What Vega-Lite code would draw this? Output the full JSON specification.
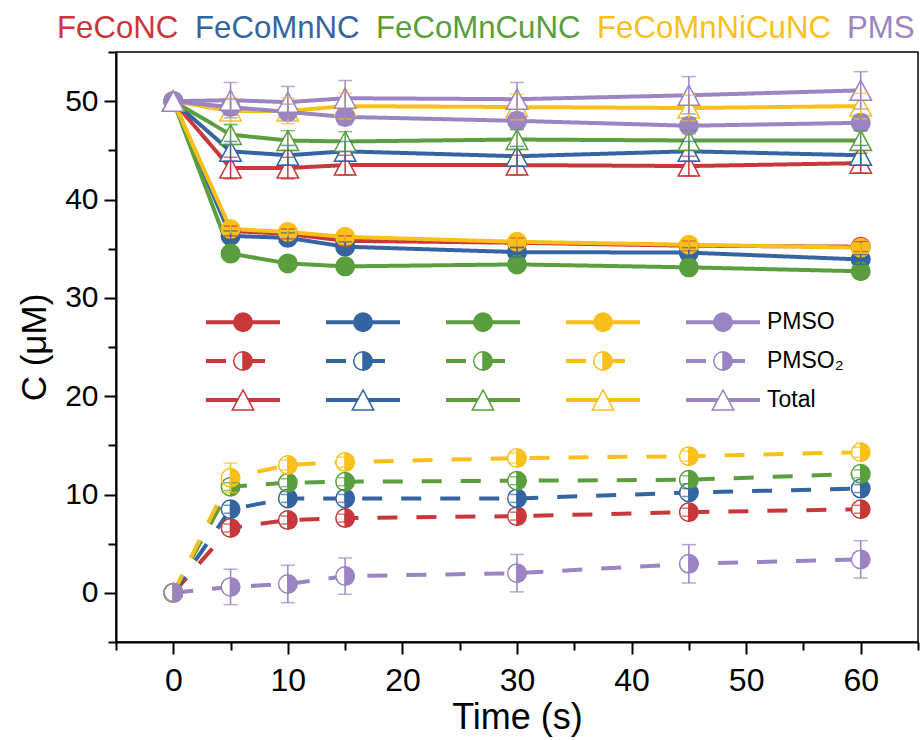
{
  "$schema": "https://vega.github.io/schema/vega-lite/v6.json",
  "width": 802,
  "height": 590,
  "autosize": {"type": "none"},
  "padding": {"left": 116, "top": 52, "right": 4, "bottom": 98},
  "background": "white",
  "config": {
    "view": {"stroke": "black", "strokeWidth": 1.5},
    "font": "Liberation Sans",
    "axis": {"grid": false, "domainColor": "black", "tickColor": "black", "labelColor": "black", "titleColor": "black", "domainWidth": 2, "tickWidth": 2}
  },
  "data": {
    "values": [
      {"s": "FeCoNC", "sp": "PMSO", "t": 0, "c": 50, "e": 0},
      {"s": "FeCoNC", "sp": "PMSO", "t": 5, "c": 36.8, "e": 0.5},
      {"s": "FeCoNC", "sp": "PMSO", "t": 10, "c": 36.5, "e": 0.5},
      {"s": "FeCoNC", "sp": "PMSO", "t": 15, "c": 35.8, "e": 0.5},
      {"s": "FeCoNC", "sp": "PMSO", "t": 30, "c": 35.6, "e": 0.5},
      {"s": "FeCoNC", "sp": "PMSO", "t": 45, "c": 35.3, "e": 0.5},
      {"s": "FeCoNC", "sp": "PMSO", "t": 60, "c": 35.2, "e": 0.5},
      {"s": "FeCoNC", "sp": "PMSO₂", "t": 0, "c": 0, "e": 0},
      {"s": "FeCoNC", "sp": "PMSO₂", "t": 5, "c": 6.6, "e": 0.4},
      {"s": "FeCoNC", "sp": "PMSO₂", "t": 10, "c": 7.4, "e": 0.4},
      {"s": "FeCoNC", "sp": "PMSO₂", "t": 15, "c": 7.6, "e": 0.4},
      {"s": "FeCoNC", "sp": "PMSO₂", "t": 30, "c": 7.8, "e": 0.4},
      {"s": "FeCoNC", "sp": "PMSO₂", "t": 45, "c": 8.2, "e": 0.4},
      {"s": "FeCoNC", "sp": "PMSO₂", "t": 60, "c": 8.5, "e": 0.4},
      {"s": "FeCoNC", "sp": "Total", "t": 0, "c": 50, "e": 0},
      {"s": "FeCoNC", "sp": "Total", "t": 5, "c": 43.2, "e": 1.1},
      {"s": "FeCoNC", "sp": "Total", "t": 10, "c": 43.2, "e": 1.1},
      {"s": "FeCoNC", "sp": "Total", "t": 15, "c": 43.5, "e": 1.0},
      {"s": "FeCoNC", "sp": "Total", "t": 30, "c": 43.5, "e": 1.0},
      {"s": "FeCoNC", "sp": "Total", "t": 45, "c": 43.4, "e": 1.0},
      {"s": "FeCoNC", "sp": "Total", "t": 60, "c": 43.7, "e": 1.0},

      {"s": "FeCoMnNC", "sp": "PMSO", "t": 0, "c": 50, "e": 0},
      {"s": "FeCoMnNC", "sp": "PMSO", "t": 5, "c": 36.3, "e": 0.5},
      {"s": "FeCoMnNC", "sp": "PMSO", "t": 10, "c": 36.1, "e": 0.5},
      {"s": "FeCoMnNC", "sp": "PMSO", "t": 15, "c": 35.2, "e": 0.5},
      {"s": "FeCoMnNC", "sp": "PMSO", "t": 30, "c": 34.65, "e": 0.5},
      {"s": "FeCoMnNC", "sp": "PMSO", "t": 45, "c": 34.6, "e": 0.5},
      {"s": "FeCoMnNC", "sp": "PMSO", "t": 60, "c": 33.9, "e": 0.5},
      {"s": "FeCoMnNC", "sp": "PMSO₂", "t": 0, "c": 0, "e": 0},
      {"s": "FeCoMnNC", "sp": "PMSO₂", "t": 5, "c": 8.5, "e": 0.4},
      {"s": "FeCoMnNC", "sp": "PMSO₂", "t": 10, "c": 9.6, "e": 0.4},
      {"s": "FeCoMnNC", "sp": "PMSO₂", "t": 15, "c": 9.6, "e": 0.4},
      {"s": "FeCoMnNC", "sp": "PMSO₂", "t": 30, "c": 9.6, "e": 0.4},
      {"s": "FeCoMnNC", "sp": "PMSO₂", "t": 45, "c": 10.2, "e": 0.4},
      {"s": "FeCoMnNC", "sp": "PMSO₂", "t": 60, "c": 10.6, "e": 0.4},
      {"s": "FeCoMnNC", "sp": "Total", "t": 0, "c": 50, "e": 0},
      {"s": "FeCoMnNC", "sp": "Total", "t": 5, "c": 44.9, "e": 1.0},
      {"s": "FeCoMnNC", "sp": "Total", "t": 10, "c": 44.5, "e": 1.0},
      {"s": "FeCoMnNC", "sp": "Total", "t": 15, "c": 44.9, "e": 1.0},
      {"s": "FeCoMnNC", "sp": "Total", "t": 30, "c": 44.4, "e": 1.0},
      {"s": "FeCoMnNC", "sp": "Total", "t": 45, "c": 44.9, "e": 1.0},
      {"s": "FeCoMnNC", "sp": "Total", "t": 60, "c": 44.5, "e": 1.0},

      {"s": "FeCoMnCuNC", "sp": "PMSO", "t": 0, "c": 50, "e": 0},
      {"s": "FeCoMnCuNC", "sp": "PMSO", "t": 5, "c": 34.5, "e": 0.5},
      {"s": "FeCoMnCuNC", "sp": "PMSO", "t": 10, "c": 33.5, "e": 0.5},
      {"s": "FeCoMnCuNC", "sp": "PMSO", "t": 15, "c": 33.2, "e": 0.5},
      {"s": "FeCoMnCuNC", "sp": "PMSO", "t": 30, "c": 33.4, "e": 0.5},
      {"s": "FeCoMnCuNC", "sp": "PMSO", "t": 45, "c": 33.1, "e": 0.5},
      {"s": "FeCoMnCuNC", "sp": "PMSO", "t": 60, "c": 32.7, "e": 0.5},
      {"s": "FeCoMnCuNC", "sp": "PMSO₂", "t": 0, "c": 0, "e": 0},
      {"s": "FeCoMnCuNC", "sp": "PMSO₂", "t": 5, "c": 10.8, "e": 0.4},
      {"s": "FeCoMnCuNC", "sp": "PMSO₂", "t": 10, "c": 11.2, "e": 0.4},
      {"s": "FeCoMnCuNC", "sp": "PMSO₂", "t": 15, "c": 11.3, "e": 0.4},
      {"s": "FeCoMnCuNC", "sp": "PMSO₂", "t": 30, "c": 11.4, "e": 0.4},
      {"s": "FeCoMnCuNC", "sp": "PMSO₂", "t": 45, "c": 11.5, "e": 0.4},
      {"s": "FeCoMnCuNC", "sp": "PMSO₂", "t": 60, "c": 12.1, "e": 0.4},
      {"s": "FeCoMnCuNC", "sp": "Total", "t": 0, "c": 50, "e": 0},
      {"s": "FeCoMnCuNC", "sp": "Total", "t": 5, "c": 46.6, "e": 1.0},
      {"s": "FeCoMnCuNC", "sp": "Total", "t": 10, "c": 46.0, "e": 1.0},
      {"s": "FeCoMnCuNC", "sp": "Total", "t": 15, "c": 45.9, "e": 1.0},
      {"s": "FeCoMnCuNC", "sp": "Total", "t": 30, "c": 46.1, "e": 1.0},
      {"s": "FeCoMnCuNC", "sp": "Total", "t": 45, "c": 46.0, "e": 1.0},
      {"s": "FeCoMnCuNC", "sp": "Total", "t": 60, "c": 46.0, "e": 1.0},

      {"s": "FeCoMnNiCuNC", "sp": "PMSO", "t": 0, "c": 50, "e": 0},
      {"s": "FeCoMnNiCuNC", "sp": "PMSO", "t": 5, "c": 37.0, "e": 0.5},
      {"s": "FeCoMnNiCuNC", "sp": "PMSO", "t": 10, "c": 36.7, "e": 0.5},
      {"s": "FeCoMnNiCuNC", "sp": "PMSO", "t": 15, "c": 36.2, "e": 0.5},
      {"s": "FeCoMnNiCuNC", "sp": "PMSO", "t": 30, "c": 35.7, "e": 0.5},
      {"s": "FeCoMnNiCuNC", "sp": "PMSO", "t": 45, "c": 35.4, "e": 0.5},
      {"s": "FeCoMnNiCuNC", "sp": "PMSO", "t": 60, "c": 35.1, "e": 0.5},
      {"s": "FeCoMnNiCuNC", "sp": "PMSO₂", "t": 0, "c": 0, "e": 0},
      {"s": "FeCoMnNiCuNC", "sp": "PMSO₂", "t": 5, "c": 11.7, "e": 1.5},
      {"s": "FeCoMnNiCuNC", "sp": "PMSO₂", "t": 10, "c": 13.0, "e": 0.5},
      {"s": "FeCoMnNiCuNC", "sp": "PMSO₂", "t": 15, "c": 13.3, "e": 0.5},
      {"s": "FeCoMnNiCuNC", "sp": "PMSO₂", "t": 30, "c": 13.7, "e": 0.5},
      {"s": "FeCoMnNiCuNC", "sp": "PMSO₂", "t": 45, "c": 13.9, "e": 0.5},
      {"s": "FeCoMnNiCuNC", "sp": "PMSO₂", "t": 60, "c": 14.3, "e": 0.5},
      {"s": "FeCoMnNiCuNC", "sp": "Total", "t": 0, "c": 50, "e": 0},
      {"s": "FeCoMnNiCuNC", "sp": "Total", "t": 5, "c": 49.0, "e": 1.3},
      {"s": "FeCoMnNiCuNC", "sp": "Total", "t": 10, "c": 49.0, "e": 1.3},
      {"s": "FeCoMnNiCuNC", "sp": "Total", "t": 15, "c": 49.5, "e": 1.3},
      {"s": "FeCoMnNiCuNC", "sp": "Total", "t": 30, "c": 49.4, "e": 1.3},
      {"s": "FeCoMnNiCuNC", "sp": "Total", "t": 45, "c": 49.3, "e": 1.3},
      {"s": "FeCoMnNiCuNC", "sp": "Total", "t": 60, "c": 49.5, "e": 1.3},

      {"s": "PMS", "sp": "PMSO", "t": 0, "c": 50, "e": 0},
      {"s": "PMS", "sp": "PMSO", "t": 5, "c": 49.4, "e": 0.8},
      {"s": "PMS", "sp": "PMSO", "t": 10, "c": 48.9, "e": 0.8},
      {"s": "PMS", "sp": "PMSO", "t": 15, "c": 48.4, "e": 0.8},
      {"s": "PMS", "sp": "PMSO", "t": 30, "c": 48.0, "e": 0.8},
      {"s": "PMS", "sp": "PMSO", "t": 45, "c": 47.5, "e": 0.8},
      {"s": "PMS", "sp": "PMSO", "t": 60, "c": 47.8, "e": 0.8},
      {"s": "PMS", "sp": "PMSO₂", "t": 0, "c": 0, "e": 0},
      {"s": "PMS", "sp": "PMSO₂", "t": 5, "c": 0.6, "e": 1.8},
      {"s": "PMS", "sp": "PMSO₂", "t": 10, "c": 0.9, "e": 1.9},
      {"s": "PMS", "sp": "PMSO₂", "t": 15, "c": 1.7, "e": 1.85},
      {"s": "PMS", "sp": "PMSO₂", "t": 30, "c": 2.0, "e": 1.9},
      {"s": "PMS", "sp": "PMSO₂", "t": 45, "c": 2.95, "e": 1.95},
      {"s": "PMS", "sp": "PMSO₂", "t": 60, "c": 3.4, "e": 1.9},
      {"s": "PMS", "sp": "Total", "t": 0, "c": 50, "e": 0},
      {"s": "PMS", "sp": "Total", "t": 5, "c": 50.1, "e": 1.8},
      {"s": "PMS", "sp": "Total", "t": 10, "c": 49.9, "e": 1.6},
      {"s": "PMS", "sp": "Total", "t": 15, "c": 50.3, "e": 1.8},
      {"s": "PMS", "sp": "Total", "t": 30, "c": 50.2, "e": 1.7},
      {"s": "PMS", "sp": "Total", "t": 45, "c": 50.6, "e": 1.9},
      {"s": "PMS", "sp": "Total", "t": 60, "c": 51.1, "e": 1.9}
    ]
  },
  "transform": [{"calculate": "datum.s + '|' + datum.sp", "as": "k"}],
  "layer": [
    {
      "mark": {"type": "line", "strokeWidth": 4},
      "encoding": {
        "x": {
          "field": "t", "type": "quantitative",
          "scale": {"domain": [-5, 65], "nice": false, "zero": false},
          "axis": {
            "values": [0, 10, 20, 30, 40, 50, 60], "title": "Time (s)",
            "tickSize": 12, "labelFontSize": 32, "labelFont": "Liberation Sans",
            "labelPadding": 11, "titleFontSize": 36, "titleFont": "Liberation Sans",
            "titleFontWeight": "normal", "titlePadding": 4, "labelFlush": false
          }
        },
        "y": {
          "field": "c", "type": "quantitative",
          "scale": {"domain": [-5, 55], "nice": false, "zero": false},
          "axis": {
            "values": [0, 10, 20, 30, 40, 50], "title": "C (μM)",
            "tickSize": 12, "labelFontSize": 30, "labelPadding": 6,
            "titleFontSize": 35, "titleFontWeight": "normal", "titlePadding": 12, "labelFlush": false
          }
        },
        "color": {
          "field": "s", "type": "nominal",
          "scale": {
            "domain": ["FeCoNC", "FeCoMnNC", "FeCoMnCuNC", "FeCoMnNiCuNC", "PMS"],
            "range": ["#c8373a", "#3465a0", "#5a9e3e", "#f9c01c", "#9b84c2"]
          },
          "legend": {
            "orient": "none", "legendX": -59, "legendY": -39, "direction": "horizontal",
            "title": null, "padding": 0, "symbolSize": 0, "symbolStrokeWidth": 0, "symbolOpacity": 0,
            "labelFontSize": 31.2, "labelFont": "Liberation Sans", "labelOffset": -31.2,
            "columnPadding": 16, "labelLimit": 0,
            "encode": {"labels": {"update": {"fill": {"scale": "color", "field": "value"}}}}
          }
        },
        "strokeDash": {
          "field": "k", "type": "nominal",
          "sort": [
            "FeCoNC|PMSO", "FeCoMnNC|PMSO", "FeCoMnCuNC|PMSO", "FeCoMnNiCuNC|PMSO", "PMS|PMSO",
            "FeCoNC|PMSO₂", "FeCoMnNC|PMSO₂", "FeCoMnCuNC|PMSO₂", "FeCoMnNiCuNC|PMSO₂", "PMS|PMSO₂",
            "FeCoNC|Total", "FeCoMnNC|Total", "FeCoMnCuNC|Total", "FeCoMnNiCuNC|Total", "PMS|Total"
          ],
          "scale": {
            "range": [
              [1, 0], [1, 0], [1, 0], [1, 0], [1, 0],
              [20, 19], [20, 19], [20, 19], [20, 19], [20, 19],
              [1, 0], [1, 0], [1, 0], [1, 0], [1, 0]
            ]
          },
          "legend": {
            "orient": "none", "legendX": 88, "legendY": 258.5, "columns": 5, "direction": "horizontal",
            "title": null, "padding": 0, "clipHeight": 23,
            "symbolType": "stroke", "symbolSize": 5476, "symbolStrokeWidth": 4,
            "labelExpr": "split(datum.value, '|')[0] == 'PMS' ? split(datum.value, '|')[1] : ''",
            "labelFontSize": 23, "labelFont": "Liberation Sans", "labelOffset": 5, "labelOpacity": 0,
            "columnPadding": 37, "rowPadding": 15, "labelLimit": 0,
            "encode": {
              "symbols": {
                "update": {
                  "stroke": {"signal": "scale('color', split(datum.value, '|')[0])"},
                  "strokeDash": {"signal": "split(datum.value, '|')[1] == 'PMSO₂' ? [20, 34] : [1, 0]"},
                  "opacity": {"value": 1}
                }
              }
            }
          }
        }
      }
    },
    {
      "transform": [{"filter": "datum.sp == 'PMSO₂'"}],
      "mark": {"type": "point", "shape": "circle", "size": 342, "filled": true, "fill": "white", "strokeWidth": 0, "opacity": 1},
      "encoding": {
        "x": {
          "field": "t", "type": "quantitative",
          "axis": {"orient": "bottom", "values": [-5, 5, 15, 25, 35, 45, 55, 65], "labels": false, "domain": false, "tickSize": 8, "title": null}
        },
        "y": {
          "field": "c", "type": "quantitative",
          "axis": {"orient": "left", "values": [-5, 5, 15, 25, 35, 45, 55], "labels": false, "domain": false, "tickSize": 8, "title": null}
        }
      }
    },
    {
      "mark": {"type": "point", "size": 5852.25, "filled": true, "opacity": 1, "strokeWidth": 1.5},
      "encoding": {
        "x": {"field": "t", "type": "quantitative", "axis": null},
        "y": {"field": "c", "type": "quantitative", "axis": null},
        "shape": {
          "field": "k", "type": "nominal",
          "scale": {
            "domain": [
              "FeCoNC|PMSO", "FeCoMnNC|PMSO", "FeCoMnCuNC|PMSO", "FeCoMnNiCuNC|PMSO", "PMS|PMSO",
              "FeCoNC|PMSO₂", "FeCoMnNC|PMSO₂", "FeCoMnCuNC|PMSO₂", "FeCoMnNiCuNC|PMSO₂", "PMS|PMSO₂",
              "FeCoNC|Total", "FeCoMnNC|Total", "FeCoMnCuNC|Total", "FeCoMnNiCuNC|Total", "PMS|Total"
            ],
            "range": [
              "M-1,0M1,0M0.242,0A0.242,0.242 0 1,1 -0.242,0A0.242,0.242 0 1,1 0.242,0Z",
              "M-1,0M1,0M0.242,0A0.242,0.242 0 1,1 -0.242,0A0.242,0.242 0 1,1 0.242,0Z",
              "M-1,0M1,0M0.242,0A0.242,0.242 0 1,1 -0.242,0A0.242,0.242 0 1,1 0.242,0Z",
              "M-1,0M1,0M0.242,0A0.242,0.242 0 1,1 -0.242,0A0.242,0.242 0 1,1 0.242,0Z",
              "M-1,0M1,0M0.242,0A0.242,0.242 0 1,1 -0.242,0A0.242,0.242 0 1,1 0.242,0Z",
              "M-1,0M1,0M0,-0.242A0.242,0.242 0 0,1 0,0.242ZM0,-0.242A0.242,0.242 0 0,0 0,0.242A0.242,0.242 0 0,1 0,-0.242",
              "M-1,0M1,0M0,-0.242A0.242,0.242 0 0,1 0,0.242ZM0,-0.242A0.242,0.242 0 0,0 0,0.242A0.242,0.242 0 0,1 0,-0.242",
              "M-1,0M1,0M0,-0.242A0.242,0.242 0 0,1 0,0.242ZM0,-0.242A0.242,0.242 0 0,0 0,0.242A0.242,0.242 0 0,1 0,-0.242",
              "M-1,0M1,0M0,-0.242A0.242,0.242 0 0,1 0,0.242ZM0,-0.242A0.242,0.242 0 0,0 0,0.242A0.242,0.242 0 0,1 0,-0.242",
              "M-1,0M1,0M0,-0.242A0.242,0.242 0 0,1 0,0.242ZM0,-0.242A0.242,0.242 0 0,0 0,0.242A0.242,0.242 0 0,1 0,-0.242",
              "M-1,0M1,0M0,-0.262L0.281,0.262L-0.281,0.262Z",
              "M-1,0M1,0M0,-0.262L0.281,0.262L-0.281,0.262Z",
              "M-1,0M1,0M0,-0.262L0.281,0.262L-0.281,0.262Z",
              "M-1,0M1,0M0,-0.262L0.281,0.262L-0.281,0.262Z",
              "M-1,0M1,0M0,-0.262L0.281,0.262L-0.281,0.262Z"
            ]
          },
          "legend": {
            "orient": "none", "legendX": 88, "legendY": 258.5, "columns": 5, "direction": "horizontal",
            "title": null, "padding": 0, "clipHeight": 23,
            "symbolSize": 5852.25, "symbolStrokeWidth": 1.5, "symbolOpacity": 1,
            "labelExpr": "split(datum.value, '|')[0] == 'PMS' ? split(datum.value, '|')[1] : ''",
            "labelFontSize": 23, "labelFont": "Liberation Sans", "labelOffset": 5, "labelColor": "black",
            "columnPadding": 37, "rowPadding": 15, "labelLimit": 0
          }
        },
        "fill": {
          "field": "k", "type": "nominal",
          "scale": {
            "domain": [
              "FeCoNC|PMSO", "FeCoMnNC|PMSO", "FeCoMnCuNC|PMSO", "FeCoMnNiCuNC|PMSO", "PMS|PMSO",
              "FeCoNC|PMSO₂", "FeCoMnNC|PMSO₂", "FeCoMnCuNC|PMSO₂", "FeCoMnNiCuNC|PMSO₂", "PMS|PMSO₂",
              "FeCoNC|Total", "FeCoMnNC|Total", "FeCoMnCuNC|Total", "FeCoMnNiCuNC|Total", "PMS|Total"
            ],
            "range": [
              "#c8373a", "#3465a0", "#5a9e3e", "#f9c01c", "#9b84c2",
              "#c8373a", "#3465a0", "#5a9e3e", "#f9c01c", "#9b84c2",
              "white", "white", "white", "white", "white"
            ]
          }
        },
        "stroke": {
          "field": "k", "type": "nominal",
          "scale": {
            "domain": [
              "FeCoNC|PMSO", "FeCoMnNC|PMSO", "FeCoMnCuNC|PMSO", "FeCoMnNiCuNC|PMSO", "PMS|PMSO",
              "FeCoNC|PMSO₂", "FeCoMnNC|PMSO₂", "FeCoMnCuNC|PMSO₂", "FeCoMnNiCuNC|PMSO₂", "PMS|PMSO₂",
              "FeCoNC|Total", "FeCoMnNC|Total", "FeCoMnCuNC|Total", "FeCoMnNiCuNC|Total", "PMS|Total"
            ],
            "range": [
              "#c8373a", "#3465a0", "#5a9e3e", "#f9c01c", "#9b84c2",
              "#c8373a", "#3465a0", "#5a9e3e", "#f9c01c", "#9b84c2",
              "#c8373a", "#3465a0", "#5a9e3e", "#f9c01c", "#9b84c2"
            ]
          }
        }
      }
    },
    {
      "transform": [{"filter": "datum.e > 0"}],
      "mark": {"type": "errorbar", "ticks": {"size": 14, "thickness": 1.5}, "thickness": 1.5},
      "encoding": {
        "x": {"field": "t", "type": "quantitative", "axis": null},
        "y": {"field": "c", "type": "quantitative", "axis": null},
        "yError": {"field": "e"},
        "color": {"field": "s", "type": "nominal"}
      }
    }
  ],
  "resolve": {"axis": {"x": "independent", "y": "independent"}}
}
